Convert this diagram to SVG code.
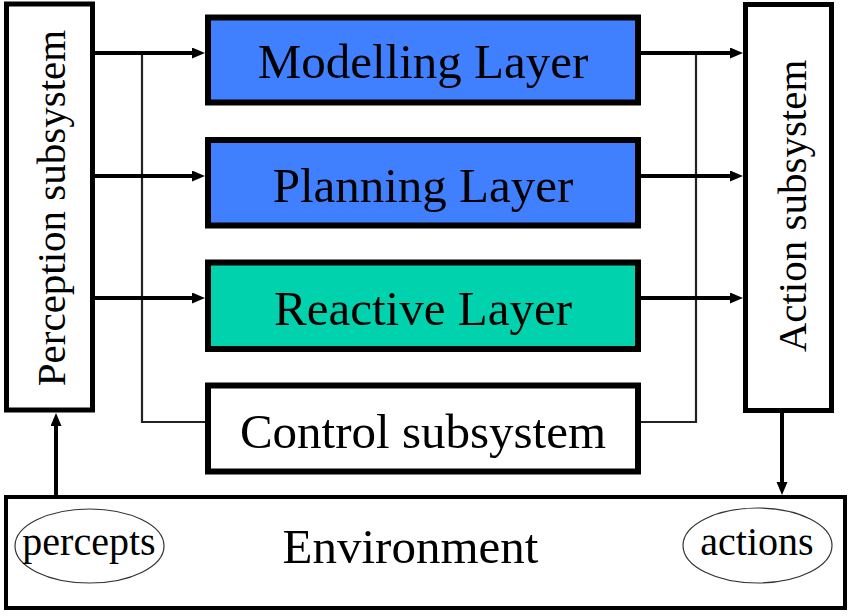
<svg xmlns="http://www.w3.org/2000/svg" width="851" height="616" viewBox="0 0 851 616">
<defs>
<style>
.box{stroke:#000;stroke-width:6;}
.side{fill:#fff;stroke:#000;stroke-width:5;}
.env{fill:#fff;stroke:#000;stroke-width:4;}
text{font-family:'Liberation Serif','Times New Roman',serif;fill:#000;text-anchor:middle;}
.lbl{font-size:49px;}
.vlbl{font-size:41px;}
.small{font-size:40px;}
.arrow{stroke:#000;stroke-width:4;fill:none;marker-end:url(#ah);}
.thin{stroke:#222;stroke-width:2.2;fill:none;}
.oval{fill:none;stroke:#333;stroke-width:1.2;}
</style>
<marker id="ah" markerUnits="userSpaceOnUse" markerWidth="14" markerHeight="12" refX="2" refY="5.5" orient="auto">
<path d="M0,0 L13,5.5 L0,11 z" fill="#000"/>
</marker>
</defs>
<rect width="851" height="616" fill="#fff"/>

<g id="connectors">
<polyline class="thin" points="142,53 142,422 205,422"/>
<polyline class="thin" points="696,53 696,422 641,422"/>
<line class="arrow" x1="95" y1="53" x2="194" y2="53"/>
<line class="arrow" x1="95" y1="176" x2="194" y2="176"/>
<line class="arrow" x1="95" y1="298" x2="194" y2="298"/>
<line class="arrow" x1="641" y1="53" x2="732" y2="53"/>
<line class="arrow" x1="641" y1="176" x2="732" y2="176"/>
<line class="arrow" x1="641" y1="298" x2="732" y2="298"/>
<line class="arrow" x1="56" y1="495" x2="56" y2="424"/>
<line class="arrow" x1="782" y1="413" x2="782" y2="484"/>
</g>

<g id="perception">
<rect class="side" x="6.5" y="4" width="86" height="406"/>
<text class="vlbl" transform="translate(65,208) rotate(-90)">Perception subsystem</text>
</g>

<g id="action">
<rect class="side" x="745.5" y="4.5" width="86" height="406"/>
<text class="vlbl" transform="translate(806,206) rotate(-90)">Action subsystem</text>
</g>

<g id="modelling">
<rect class="box" x="208" y="17.5" width="430" height="85" fill="#4080FF"/>
<text class="lbl" x="423" y="78">Modelling Layer</text>
</g>

<g id="planning">
<rect class="box" x="208" y="140" width="430" height="85.5" fill="#4080FF"/>
<text class="lbl" x="423" y="202">Planning Layer</text>
</g>

<g id="reactive">
<rect class="box" x="208" y="262.5" width="430" height="86.5" fill="#00D2AE"/>
<text class="lbl" x="423" y="325">Reactive Layer</text>
</g>

<g id="control">
<rect class="box" x="208" y="385.5" width="430" height="86" fill="#fff"/>
<text class="lbl" x="423" y="448">Control subsystem</text>
</g>

<g id="environment">
<rect class="env" x="6" y="497" width="839" height="111"/>
<text class="lbl" x="410.5" y="563">Environment</text>
</g>

<g id="percepts">
<ellipse class="oval" cx="89.5" cy="546" rx="74.5" ry="37"/>
<text class="small" x="89" y="555">percepts</text>
</g>

<g id="actions">
<ellipse class="oval" cx="757.5" cy="545.5" rx="74.5" ry="37.5"/>
<text class="small" x="757" y="555">actions</text>
</g>
</svg>
